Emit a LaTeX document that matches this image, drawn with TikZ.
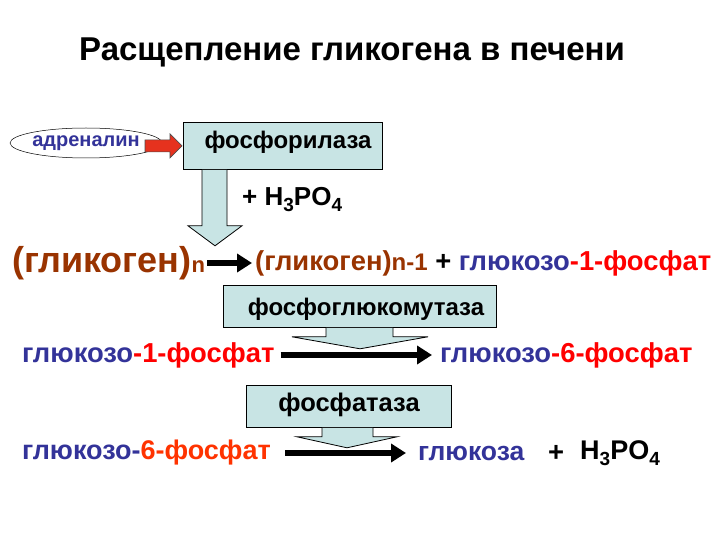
\documentclass[tikz,border=0pt]{standalone}
\usepackage{fontspec}
\setmainfont{Liberation Sans}
\usetikzlibrary{arrows.meta,shapes.geometric,calc}
\definecolor{navy}{RGB}{51,51,153}
\definecolor{brn}{RGB}{153,51,0}
\definecolor{rd}{RGB}{255,0,0}
\definecolor{orng}{RGB}{255,51,0}
\definecolor{lblue}{RGB}{200,228,228}
\definecolor{redarrow}{RGB}{230,50,30}
\newcommand{\fsz}[1]{\fontsize{#1}{#1}\selectfont}
\newcommand{\hpo}[1]{H\raisebox{-6pt}{\fsz{#1}3}PO\raisebox{-6pt}{\fsz{#1}4}}
\begin{document}
\begin{tikzpicture}[x=1pt,y=-1pt,
  txt/.style={inner sep=0pt, font=\bfseries\fsz{24}},
  line/.style={inner sep=0pt, anchor=west, font=\bfseries\fsz{27.4}},
  enz/.style={draw=black, fill=lblue, line width=0.8pt},
  rxn/.style={line width=5.5pt, -{Triangle[length=15pt,width=18pt]}}]
\useasboundingbox (0,0) rectangle (720,540);
\fill[white] (0,0) rectangle (720,540);

\node[txt, font=\bfseries\fsz{33}] (title) at (352,52) {Расщепление гликогена в печени};

% adrenaline and phosphorylase
\node[draw, ellipse, minimum width=144pt, minimum height=30pt, inner sep=0pt,
      text=navy, font=\bfseries\fsz{20}, line width=0.5pt] (adr) at (86,143) {адреналин};
\node[enz, minimum width=199pt, minimum height=47pt, anchor=north west, inner sep=0pt] (fos) at (183,122) {};
\node[txt] (fost) at (288,142) {фосфорилаза};
\filldraw[fill=redarrow, draw=black!70, line width=0.6pt]
  ($(fos.west)+(-38,-6)$) -- ++(25,0) -- ++(0,-6) -- ($(fos.west)+(-1,0)$)
  -- ($(fos.west)+(-13,12)$) -- ++(0,-6) -- ++(-25,0) -- cycle;
\filldraw[enz]
  ($(fos.south west)+(19,0)$) -- ++(0,56) -- ++(-14,0) -- ($(fos.south west)+(32,76)$)
  -- ($(fos.south west)+(59,56)$) -- ++(-15,0) -- ($(fos.south west)+(44,0)$);
\node[inner sep=0pt, anchor=west, font=\bfseries\fsz{26}] (hp1) at (242,200) {+ \hpo{19}};

% line 1
\node[line, text=brn, font=\bfseries\fsz{36}] (g0) at (12,263) {(гликоген)\fsz{22}n};
\node[line] (g1) at (255,263)
  {\textcolor{brn}{(гликоген)\fsz{24}n-1} + \textcolor{navy}{глюкозо}\textcolor{rd}{-1-фосфат}};
\draw[rxn, shorten <=2pt, shorten >=3pt] (g0.east) -- (g1.west);

% phosphoglucomutase
\node[enz, minimum width=273pt, minimum height=42pt, anchor=north west, inner sep=0pt] (pgm) at (223,285) {};
\node[txt] (pgmt) at (366,309) {фосфоглюкомутаза};
\filldraw[enz]
  ($(pgm.south west)+(103,0)$) -- ++(0,9) -- ++(-34,0) -- ($(pgm.south west)+(137,21)$)
  -- ($(pgm.south west)+(205,9)$) -- ++(-35,0) -- ($(pgm.south west)+(170,0)$);

% line 2
\node[line] (a1) at (22,355) {\textcolor{navy}{глюкозо}\textcolor{rd}{-1-фосфат}};
\node[line] (a2) at (440,355) {\textcolor{navy}{глюкозо}\textcolor{rd}{-6-фосфат}};
\draw[rxn, shorten <=6pt, shorten >=8pt] (a1.east) -- (a2.west);

% phosphatase
\node[enz, minimum width=205pt, minimum height=42pt, anchor=north west, inner sep=0pt] (pht) at (246,385) {};
\node[txt, font=\bfseries\fsz{25.5}] (phtt) at (349,405) {фосфатаза};
\filldraw[enz]
  ($(pht.south west)+(76,0)$) -- ++(0,9) -- ++(-25,0) -- ($(pht.south west)+(101,20)$)
  -- ($(pht.south west)+(151,9)$) -- ++(-24,0) -- ($(pht.south west)+(127,0)$);

% line 3
\node[line, font=\bfseries\fsz{27}] (b1) at (22,453) {\textcolor{navy}{глюкозо-}\textcolor{orng}{6-фосфат}};
\node[line, text=navy, font=\bfseries\fsz{26.5}] (b2) at (418,453) {глюкоза};
\node[line] (b3) at (548,453) {+};
\node[line, font=\bfseries\fsz{27}] (b4) at (580,453) {\hpo{19}};
\draw[rxn, shorten <=14pt, shorten >=12pt] (b1.east) -- (b2.west);
\end{tikzpicture}
\end{document}
